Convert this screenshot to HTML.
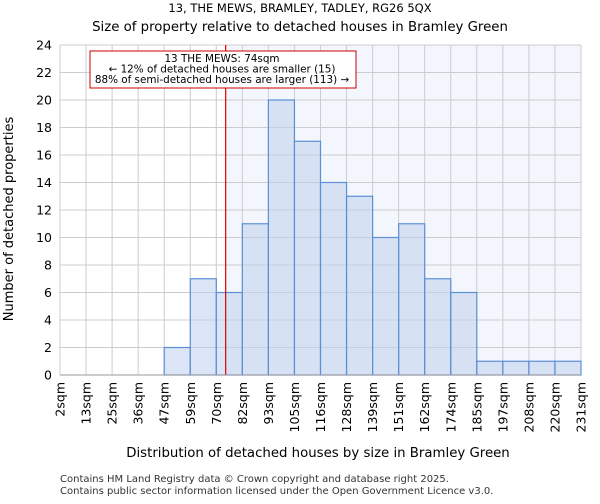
<!DOCTYPE html>
<html><head><meta charset="utf-8"><style>
body{margin:0;background:#fff;font-family:"DejaVu Sans","Liberation Sans",sans-serif}
</style></head><body>
<svg width="600" height="500" xmlns="http://www.w3.org/2000/svg" font-family="DejaVu Sans, Liberation Sans, sans-serif">
<text x="300" y="12" font-size="11.5" text-anchor="middle">13, THE MEWS, BRAMLEY, TADLEY, RG26 5QX</text>
<text x="300" y="31" font-size="13.3" text-anchor="middle">Size of property relative to detached houses in Bramley Green</text>
<g id="plot"></g>
<text x="318" y="457" font-size="13.3" text-anchor="middle">Distribution of detached houses by size in Bramley Green</text>
<text transform="translate(13,219) rotate(-90)" font-size="13" text-anchor="middle">Number of detached properties</text>
<text x="60" y="482" font-size="10" fill="#333">Contains HM Land Registry data © Crown copyright and database right 2025.</text>
<text x="60" y="494" font-size="10" fill="#333">Contains public sector information licensed under the Open Government Licence v3.0.</text>
</svg>
<script>
const binLabels=["2sqm","13sqm","25sqm","36sqm","47sqm","59sqm","70sqm","82sqm","93sqm","105sqm","116sqm","128sqm","139sqm","151sqm","162sqm","174sqm","185sqm","197sqm","208sqm","220sqm","231sqm"];
const counts=[0,0,0,0,2,7,6,11,20,17,14,13,10,11,7,6,1,1,1,1];
const yTicks=[0,2,4,6,8,10,12,14,16,18,20,22,24];
const markerBin=6.36;
const NS="http://www.w3.org/2000/svg";
const g=document.getElementById('plot');
const X0=60,X1=581,Y0=375,Y1=45,YMAX=24;
const bw=(X1-X0)/counts.length;
const xs=i=>X0+i*bw;
const ys=v=>Y0-(v/YMAX)*(Y0-Y1);
function mk(t,a){const e=document.createElementNS(NS,t);for(const k in a)e.setAttribute(k,a[k]);g.appendChild(e);return e;}
const mx=xs(markerBin);
let e=mk('rect',{x:mx,y:Y1,width:X1-mx,height:Y0-Y1,fill:'#f3f6fd'});


for(let i=0;i<=counts.length;i++){e=mk('line',{x1:xs(i),x2:xs(i),y1:Y1,y2:Y0,stroke:'#ccc','stroke-width':1});

}
yTicks.forEach(v=>{e=mk('line',{x1:X0,x2:X1,y1:ys(v),y2:ys(v),stroke:'#ccc','stroke-width':1});


const t=mk('text',{x:X0-8,y:ys(v)+4.5,'font-size':'12.5','text-anchor':'end'});t.textContent=v;

});
counts.forEach((c,i)=>{if(c<=0)return;
e=mk('rect',{x:xs(i),y:ys(c),width:bw,height:Y0-ys(c),fill:'rgba(190,208,236,0.55)',stroke:'#5b8fd6','stroke-width':1.2});

});
binLabels.forEach((l,i)=>{const t=mk('text',{transform:`translate(${xs(i)+4.5},382) rotate(-90)`,'font-size':'12.5','text-anchor':'end'});t.textContent=l;

});
e=mk('line',{x1:mx,x2:mx,y1:Y1,y2:Y0,stroke:'#d00','stroke-width':1.2});


e=mk('rect',{x:90,y:51,width:266,height:37,fill:'#fff',stroke:'#c00','stroke-width':1});


[["13 THE MEWS: 74sqm",62],["← 12% of detached houses are smaller (15)",72.5],["88% of semi-detached houses are larger (113) →",83]].forEach(([s,y])=>{const t=mk('text',{x:222,y:y,'font-size':'10.4','text-anchor':'middle'});t.textContent=s;

});
e=mk('line',{x1:X0,x2:X1,y1:Y0,y2:Y0,stroke:'#999','stroke-width':1});


</script>
</body></html>
